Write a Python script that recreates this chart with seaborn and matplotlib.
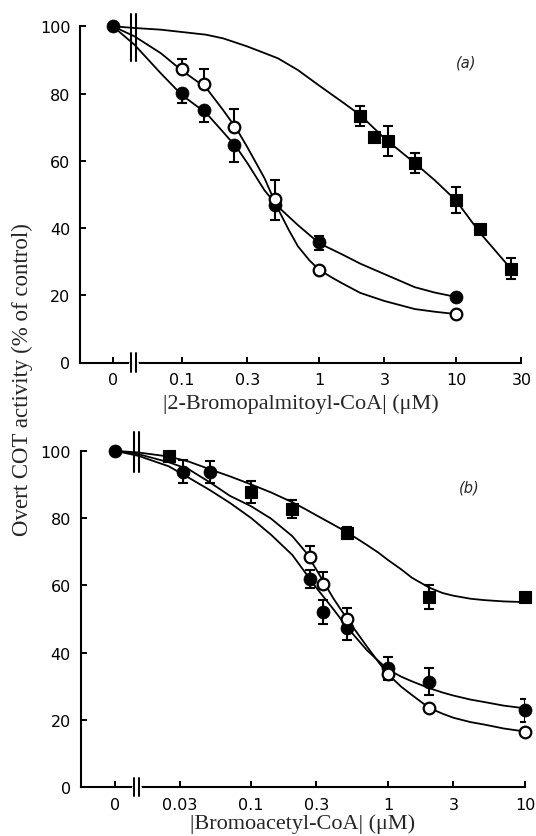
import numpy as np
import seaborn as sns
from matplotlib import pyplot as plt

# ---- panel (a): 2-bromopalmitoyl-CoA, concentrations in uM ----
a_fill_x = [0.1, 0.145, 0.24, 0.48, 1, 10]
a_fill_y = [80.2, 75.0, 64.7, 46.9, 35.7, 19.6]
a_fill_lo = [3.0, 3.6, 5.0, 4.5, 2.2, 0]
a_fill_hi = [0, 0, 0, 0, 2.0, 0]

a_open_x = [0.1, 0.145, 0.24, 0.48, 1, 10]
a_open_y = [87.2, 82.8, 70.1, 48.6, 27.4, 14.5]
a_open_hi = [3.1, 4.4, 5.4, 5.7, 0, 0]

a_sq_x = [2, 2.5, 3.2, 5, 10, 15, 25]
a_sq_y = [73.2, 67.1, 65.8, 59.4, 48.3, 39.8, 27.9]
a_sq_err = [3.0, 0, 4.4, 3.0, 3.8, 0, 3.2]

# fitted curves (0 = control)
a_fill_curve_x = [0, 0.045, 0.07, 0.1, 0.15, 0.2, 0.25, 0.3, 0.4, 0.5, 0.7, 1, 1.5, 2, 3, 5, 7, 10]
a_fill_curve = [100, 94.5, 86.0, 79.5, 74.2, 68.5, 64.0, 59.3, 51.2, 46.4, 40.9, 35.5, 32.0, 29.4, 26.3, 22.4, 20.8, 19.5]
a_open_curve_x = [0, 0.045, 0.07, 0.1, 0.15, 0.2, 0.25, 0.3, 0.4, 0.5, 0.6, 0.7, 0.85, 1, 1.25, 1.5, 2, 3, 5, 7, 10]
a_open_curve = [100, 97.0, 92.0, 86.8, 81.7, 75.0, 69.5, 64.0, 54.8, 45.8, 39.5, 34.6, 30.4, 27.6, 25.2, 23.4, 20.7, 18.3, 15.9, 15.1, 14.4]
a_sq_curve_x = [0, 0.045, 0.07, 0.1, 0.15, 0.2, 0.3, 0.5, 0.7, 1, 1.5, 2, 3, 5, 7, 10, 15, 25]
a_sq_curve = [100, 99.5, 99.0, 98.3, 97.5, 96.4, 94.0, 90.5, 87.0, 82.4, 77.3, 73.6, 66.7, 59.3, 54.2, 48.2, 38.5, 28.0]

a_ticks = [0, 0.1, 0.3, 1, 3, 10, 30]
a_ticklabels = ['0', '0.1', '0.3', '1', '3', '10', '30']

# ---- panel (b): bromoacetyl-CoA ----
b_fill_x = [0.032, 0.05, 0.27, 0.335, 0.5, 1, 2, 10]
b_fill_y = [93.8, 93.8, 61.8, 52.0, 47.4, 35.3, 31.3, 22.8]
b_fill_err = [3.4, 3.3, 2.6, 3.5, 3.6, 3.5, 4.0, 3.4]

b_open_x = [0.27, 0.335, 0.5, 1, 2, 10]
b_open_y = [68.4, 60.4, 49.9, 33.5, 23.6, 16.3]
b_open_hi = [3.2, 3.6, 3.2, 0, 0, 0]

b_sq_x = [0.025, 0.1, 0.2, 0.5, 2, 10]
b_sq_y = [98.5, 87.8, 82.7, 75.7, 56.6, 56.6]
b_sq_err = [0, 3.2, 2.8, 1.5, 3.6, 0]

b_curve_x = [0, 0.015, 0.025, 0.035, 0.05, 0.07, 0.1, 0.14, 0.2, 0.25, 0.3, 0.4, 0.5, 0.7, 0.85, 1, 1.25, 1.5, 2, 2.5, 3, 4, 5, 7, 10]
b_curve_fill = [100, 98.5, 95.4, 92.0, 88.3, 84.5, 80.0, 75.0, 69.0, 63.6, 59.2, 52.8, 47.6, 40.7, 37.5, 34.9, 32.8, 31.4, 29.4, 28.1, 27.2, 26.0, 25.3, 24.2, 23.4]
b_curve_open = [100, 99.0, 96.6, 94.5, 90.6, 86.6, 83.5, 79.8, 74.6, 69.9, 64.6, 56.0, 50.1, 41.8, 37.2, 33.5, 29.8, 27.3, 23.5, 21.8, 20.6, 19.3, 18.6, 17.4, 16.5]
b_curve_sq = [100, 99.5, 98.3, 96.8, 94.5, 92.4, 90.0, 87.6, 84.7, 82.6, 80.8, 78.0, 75.8, 72.0, 69.7, 67.5, 64.7, 62.2, 59.3, 57.7, 56.9, 56.0, 55.6, 55.2, 55.0]

b_ticks = [0, 0.03, 0.1, 0.3, 1, 3, 10]
b_ticklabels = ['0', '0.03', '0.1', '0.3', '1', '3', '10']

# where "0" and the axis break sit on the log10 axis
A_ZERO, A_BREAK, A_XLIM = -1.505, -1.354, (-1.745, np.log10(30))
B_ZERO, B_BREAK, B_XLIM = -1.995, -1.838, (-2.245, 1.0)


def pos(c, zero):
    c = np.asarray(c, dtype=float)
    out = np.full(c.shape, zero)
    out[c > 0] = np.log10(c[c > 0])
    return out


sns.set_theme(style='ticks')
plt.rcParams['font.family'] = ['DejaVu Sans']

W, H = 536, 837
fig = plt.figure(figsize=(W / 100, H / 100), dpi=100)
ax_a = fig.add_axes([80 / W, 1 - 363.5 / H, 441.4 / W, 353 / H])
ax_b = fig.add_axes([80.7 / W, 1 - 788 / H, 444.3 / W, 353 / H])

serif = ['Liberation Serif', 'DejaVu Serif']


def draw_curve(ax, x, y, zero):
    sns.lineplot(x=pos(x, zero), y=y, ax=ax, color='black', lw=1.3,
                 estimator=None, sort=False, zorder=2)


def draw_pts(ax, x, y, zero, kind):
    if kind == 'open':
        sns.scatterplot(x=pos(x, zero), y=y, ax=ax, marker='o', s=70,
                        facecolor='white', edgecolor='black', linewidth=1.6,
                        zorder=4, clip_on=False)
    elif kind == 'sq':
        sns.scatterplot(x=pos(x, zero), y=y, ax=ax, marker='s', s=78,
                        color='black', edgecolor='black', linewidth=0.8,
                        zorder=4, clip_on=False)
    else:
        sns.scatterplot(x=pos(x, zero), y=y, ax=ax, marker='o', s=88,
                        color='black', edgecolor='black', linewidth=0.5,
                        zorder=4, clip_on=False)


def draw_err(ax, x, y, lo, hi, zero):
    ax.errorbar(pos(x, zero), y, yerr=[lo, hi], fmt='none', ecolor='black',
                elinewidth=1.5, capsize=3.4, capthick=1.5, zorder=3)


def style(ax, zero, brk, xlim, ticks, labels, xlabel, tag, lpad):
    ax.set_xlim(*xlim)
    ax.set_ylim(0, 105)
    ax.set_xticks(pos(ticks, zero))
    ax.set_xticklabels(labels)
    ax.set_yticks([0, 20, 40, 60, 80, 100])
    ax.tick_params(direction='in', length=4, width=1.4, labelsize=11.5,
                   pad=7, colors='black')
    for s in ['top', 'right']:
        ax.spines[s].set_visible(False)
    for s in ['left', 'bottom']:
        ax.spines[s].set_linewidth(1.5)
        ax.spines[s].set_color('black')
    ax.spines['left'].set_bounds(0, 100)
    ax.set_xlabel(xlabel, fontsize=16, family=serif, labelpad=lpad)
    ax.set_ylabel('')
    ax.text(0.875, 0.85, tag, transform=ax.transAxes, fontsize=10.5,
            style='italic', ha='center', va='center')
    d = 0.018
    # break in the x axis
    ax.plot([brk - d, brk + d], [0, 0], color='white', lw=3.5, clip_on=False, zorder=5)
    for bx in (brk - d, brk + d):
        ax.plot([bx, bx], [-2.7, 2.7], color='black', lw=1.4, clip_on=False, zorder=6)
    ax.set_facecolor('white')


# panel (a)
draw_curve(ax_a, a_fill_curve_x, a_fill_curve, A_ZERO)
draw_curve(ax_a, a_open_curve_x, a_open_curve, A_ZERO)
draw_curve(ax_a, a_sq_curve_x, a_sq_curve, A_ZERO)
draw_err(ax_a, a_fill_x, a_fill_y, a_fill_lo, a_fill_hi, A_ZERO)
draw_err(ax_a, a_open_x, a_open_y, [0] * len(a_open_x), a_open_hi, A_ZERO)
draw_err(ax_a, a_sq_x, a_sq_y, a_sq_err, a_sq_err, A_ZERO)
draw_pts(ax_a, a_fill_x, a_fill_y, A_ZERO, 'fill')
draw_pts(ax_a, a_open_x, a_open_y, A_ZERO, 'open')
draw_pts(ax_a, a_sq_x, a_sq_y, A_ZERO, 'sq')
draw_pts(ax_a, [0], [100], A_ZERO, 'fill')
for bx in (A_BREAK - 0.018, A_BREAK + 0.018):
    ax_a.plot([bx, bx], [89.8, 103.6], color='black', lw=1.5, zorder=5)
style(ax_a, A_ZERO, A_BREAK, A_XLIM, a_ticks, a_ticklabels,
      '|2-Bromopalmitoyl-CoA| (μM)', '(a)', 4)

# panel (b)
draw_curve(ax_b, b_curve_x, b_curve_fill, B_ZERO)
draw_curve(ax_b, b_curve_x, b_curve_open, B_ZERO)
draw_curve(ax_b, b_curve_x, b_curve_sq, B_ZERO)
draw_err(ax_b, b_fill_x, b_fill_y, b_fill_err, b_fill_err, B_ZERO)
draw_err(ax_b, b_open_x, b_open_y, [0] * len(b_open_x), b_open_hi, B_ZERO)
draw_err(ax_b, b_sq_x, b_sq_y, b_sq_err, b_sq_err, B_ZERO)
draw_pts(ax_b, b_fill_x, b_fill_y, B_ZERO, 'fill')
draw_pts(ax_b, b_open_x, b_open_y, B_ZERO, 'open')
draw_pts(ax_b, b_sq_x, b_sq_y, B_ZERO, 'sq')
draw_pts(ax_b, [0], [100], B_ZERO, 'fill')
for bx in (B_BREAK - 0.018, B_BREAK + 0.018):
    ax_b.plot([bx, bx], [93.8, 105.5], color='black', lw=1.5, zorder=5, clip_on=False)
style(ax_b, B_ZERO, B_BREAK, B_XLIM, b_ticks, b_ticklabels,
      '|Bromoacetyl-CoA| (μM)', '(b)', 1)

fig.text(22 / W, 1 - 380 / H, 'Overt COT activity (% of control)', rotation=90,
         ha='center', va='center', fontsize=16.5, family=serif)

fig.savefig('out.png', dpi=100, facecolor='white')
